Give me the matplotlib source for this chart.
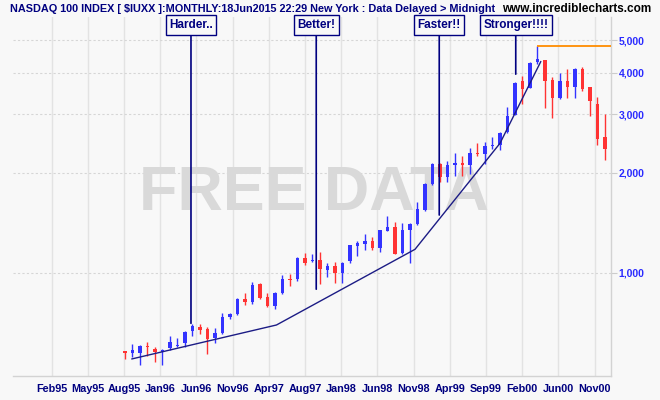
import numpy as np
import matplotlib
matplotlib.use('Agg')
import matplotlib.pyplot as plt
from matplotlib.ticker import NullLocator
from matplotlib.transforms import blended_transform_factory

plt.rcParams['font.family'] = ['Liberation Sans', 'DejaVu Sans']

# ---- data (monthly NASDAQ 100, Aug 1995 .. Dec 2000) ----
opens = [580, 576, 576, 602, 590, 580, 596, 603, 615, 671, 688, 679, 637, 661, 736, 753, 834,
         817, 927, 849, 796, 873, 958, 961, 1107, 1084, 1094, 1023, 1050,
         998, 1085, 1205, 1224, 1250, 1191, 1340, 1374, 1146, 1349, 1403, 1546,
         1846, 2130, 1940, 2115, 2140, 2110, 2295, 2276, 2400, 2416, 2646, 2981,
         3779, 3600, 4295, 4363, 3800, 3346, 3775, 3608, 4111, 3608, 3220, 2566]
highs = [583, 612, 608, 620, 600, 590, 647, 637, 670, 701, 703, 687, 684, 758, 760, 840, 873,
         940, 931, 869, 877, 984, 991, 1115, 1148, 1141, 1156, 1074, 1077,
         1081, 1216, 1245, 1307, 1285, 1350, 1486, 1426, 1416, 1416, 1637, 1859,
         2140, 2145, 2170, 2290, 2240, 2367, 2463, 2467, 2556, 2655, 3157, 3745,
         3914, 4290, 4816, 4370, 3888, 3993, 4111, 4120, 4170, 3620, 3385, 3000]
lows = [551, 558, 530, 565, 542, 529, 587, 601, 601, 647, 654, 571, 618, 656, 728, 748, 800,
        807, 835, 789, 781, 865, 916, 948, 1057, 1082, 929, 971, 935,
        935, 1070, 1124, 1170, 1172, 1159, 1334, 1140, 1140, 1070, 1393, 1535,
        1838, 1872, 1880, 1955, 1955, 1984, 2249, 2130, 2352, 2338, 2630, 2975,
        3214, 3590, 4250, 3122, 2914, 3330, 3346, 3361, 3520, 2969, 2421, 2184]
closes = [576, 588, 605, 598, 578, 588, 620, 607, 665, 693, 676, 634, 659, 736, 752, 836, 820,
          918, 841, 796, 869, 957, 952, 1107, 1074, 1096, 1026, 1050, 998,
          1072, 1211, 1228, 1250, 1189, 1343, 1378, 1143, 1346, 1406, 1557, 1846,
          2125, 1941, 2110, 2140, 2106, 2289, 2280, 2406, 2410, 2638, 2961, 3727,
          3571, 4271, 4393, 3779, 3346, 3779, 3608, 4111, 3571, 3290, 2521, 2353]

x_labels = ['Feb95', 'May95', 'Aug95', 'Jan96', 'Jun96', 'Nov96', 'Apr97', 'Aug97',
            'Jan98', 'Jun98', 'Nov98', 'Apr99', 'Sep99', 'Feb00', 'Jun00', 'Nov00']
y_ticks = [1000, 2000, 3000, 4000, 5000]

annot_text = ['Harder..', 'Better!', 'Faster!!', 'Stronger!!!!']
annot_x = [8.8, 25.5, 41.9, 52.1]          # month index
annot_low = [706, 894, 1493, 3955]         # where the pointer line ends

trend_x = [0.93, 20.2, 38.67, 50.0, 55.43]
trend_y = [552, 698, 1178, 2452, 4311]

title_main = "NASDAQ 100 INDEX [ $IUXX ]:MONTHLY:18Jun2015 22:29 New York : Data Delayed > Midnight"
title_site = "www.incrediblecharts.com"

# ---- figure ----
BG = '#f8f8f8'
NAVY = '#000080'
BLUE = '#3333ff'
RED = '#ff3333'
W, H = 660, 400
fig = plt.figure(figsize=(6.6, 4.0), dpi=100, facecolor=BG)
L, R, T, B = 13, 611, 17, 376
ax = fig.add_axes([L / W, 1 - B / H, (R - L) / W, (B - T) / H])
ax.set_facecolor(BG)
ax.set_yscale('log')
ax.set_ylim(490.5, 5873)
ax.set_xlim(-14.93, 64.8)

o = np.array(opens, float); h = np.array(highs, float)
l = np.array(lows, float); c = np.array(closes, float)
x = np.arange(len(o))
col = np.where(c >= o, BLUE, RED)
lo = np.minimum(o, c)
hi = np.maximum(np.maximum(o, c), lo * 1.009)
ax.vlines(x, l, h, colors=col, lw=1.0, zorder=4)
ax.bar(x, hi - lo, bottom=lo, width=0.44, color=col, lw=0, zorder=5)

# trend line
ax.plot(trend_x, trend_y, color='#1c1c85', lw=1.0, zorder=6)

# orange line at the all-time high
imax = int(np.argmax(h))
ax.hlines(h[imax], x[imax], ax.get_xlim()[1], color='#ff8c00', lw=1.3, zorder=6)

# grid / ticks
tick_pos = -0.133 + 4.827 * (np.arange(len(x_labels)) - 2)
ax.set_xticks(tick_pos)
ax.set_xticklabels(x_labels)
ax.xaxis.grid(True, color='#e3e3e3', lw=1.0, ls='-', zorder=0)
ax.set_yticks(y_ticks)
ax.set_yticklabels([f'{v:,}' for v in y_ticks])
ax.yaxis.set_minor_locator(NullLocator())
ax.yaxis.grid(True, color='#d6d6d6', lw=0.8, ls=(0, (2, 2)), zorder=0)
ax.yaxis.tick_right()
ax.tick_params(axis='y', length=4, width=0.8, color='#cccccc', labelcolor='#2b2bff',
               pad=1.5, labelsize=7.5)
ax.tick_params(axis='x', length=0, pad=6, labelcolor=NAVY, labelsize=7.8)
for lab in ax.get_xticklabels() + ax.get_yticklabels():
    lab.set_fontweight('bold')
ax.set_axisbelow(True)
for s in ['top', 'left']:
    ax.spines[s].set_visible(False)
for s in ['bottom', 'right']:
    ax.spines[s].set_color('#d3d3d3')
    ax.spines[s].set_linewidth(1.0)

# watermark
wm = ax.text(314 / W, 1 - 210 / H, 'FREE DATA', transform=fig.transFigure,
             ha='center', va='baseline', fontsize=44, fontweight='bold',
             color='#d9d9d9', zorder=1)

# annotations
btrans = blended_transform_factory(ax.transData, ax.transAxes)
for txt, ax_x, yl in zip(annot_text, annot_x, annot_low):
    ax.annotate(txt, xy=(ax_x, yl), xycoords='data',
                xytext=(ax_x, (B - 25) / (B - T)), textcoords=btrans,
                ha='center', va='center', fontsize=8.5, fontweight='bold', color=NAVY,
                bbox=dict(boxstyle='square,pad=0.3', fc=BG, ec=NAVY, lw=1.0),
                arrowprops=dict(arrowstyle='-', color=NAVY, lw=1.2,
                                shrinkA=0, shrinkB=0),
                zorder=7, annotation_clip=False)

# title
t1 = fig.text(10 / W, 1 - 9 / H, title_main, ha='left', va='center',
              fontsize=7.5, fontweight='bold', color=NAVY)
t2 = fig.text(651 / W, 1 - 9 / H, title_site, ha='right', va='center',
              fontsize=7.5, fontweight='bold', color='black')

renderer = fig.canvas.get_renderer()
for t, target in [(t1, 486), (t2, 149), (wm, 350)]:
    bb = t.get_window_extent(renderer)
    t.set_fontsize(t.get_fontsize() * target / bb.width)

fig.savefig('out.png', dpi=100, facecolor=BG)
